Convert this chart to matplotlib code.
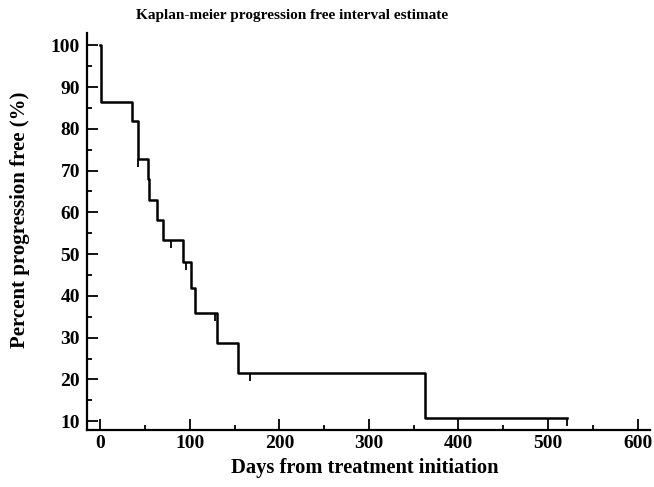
import numpy as np
import matplotlib
matplotlib.use("Agg")
import matplotlib.pyplot as plt
from matplotlib.ticker import MultipleLocator

# Kaplan-Meier step data
event_days = [0, 0.5, 35.5, 41.5, 52.7, 54.5, 63.5, 70.2, 91.8, 101, 106, 130.5, 153.3, 362.6]
survival_pct = [100, 86.4, 81.8, 72.7, 67.9, 63.0, 58.2, 53.3, 48.0, 42.0, 36.0, 28.8, 21.6, 10.8]
last_day = 521
censor_days = [42.5, 78.4, 95.5, 128, 167, 521]

plt.rcParams['font.family'] = ['Liberation Serif', 'DejaVu Serif']
plt.rcParams['font.weight'] = 'bold'

fig = plt.figure(figsize=(6.54, 4.87), dpi=100)
ax = fig.add_axes([0.133, 0.117, 0.861, 0.815])

x = event_days + [last_day]
y = survival_pct + [survival_pct[-1]]
ax.step(x, y, where='post', color='black', lw=1.8)

# censoring marks
censor_y = [survival_pct[np.searchsorted(event_days, d, side='right') - 1] for d in censor_days]
ax.plot(censor_days, censor_y, ls='none', marker=3, ms=6, mew=1.3, color='black')

ax.set_xlim(-15, 614)
ax.set_ylim(7.9, 102.9)
ax.xaxis.set_major_locator(MultipleLocator(100))
ax.xaxis.set_minor_locator(MultipleLocator(50))
ax.yaxis.set_minor_locator(MultipleLocator(5))
ax.set_yticks(np.arange(10, 101, 10))

for s in ['top', 'right']:
    ax.spines[s].set_visible(False)
for s in ['left', 'bottom']:
    ax.spines[s].set_linewidth(1.6)

ax.tick_params(which='major', direction='in', length=8, width=1.3, labelsize=14)
ax.tick_params(which='minor', direction='in', length=3.5, width=1.3)
ax.tick_params(axis='y', which='major', pad=5)

fig.text(0.447, 0.968, 'Kaplan-meier progression free interval estimate',
         ha='center', va='center', fontsize=11, fontweight='bold')
ax.set_xlabel('Days from treatment initiation', fontsize=14.8, fontweight='bold')
ax.xaxis.set_label_coords(0.494, -0.07)
fig.text(0.031, 0.548, 'Percent progression free (%)', rotation=90,
         ha='center', va='center', fontsize=15, fontweight='bold')

fig.savefig('out.png', dpi=100)
